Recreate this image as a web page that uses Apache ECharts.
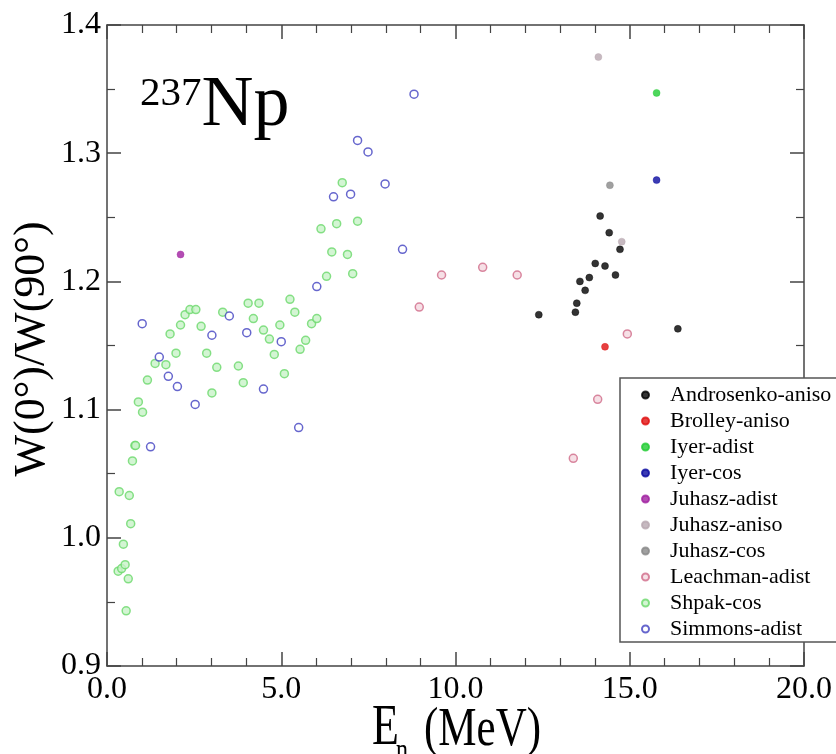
<!DOCTYPE html>
<html>
<head>
<meta charset="utf-8">
<script src="https://cdn.jsdelivr.net/npm/echarts@6/dist/echarts.min.js"></script>
<style>
  html, body { margin: 0; padding: 0; background: #fff; }
  #chart { width: 836px; height: 754px; }
</style>
</head>
<body>
<div id="chart"></div>
<script>
// data: [E_n (MeV), W(0)/W(90)]
const androsenkoAniso = [
  [12.39, 1.174], [13.44, 1.176], [13.48, 1.183], [13.57, 1.200], [13.72, 1.193],
  [13.84, 1.203], [14.01, 1.214], [14.15, 1.251], [14.29, 1.212], [14.41, 1.238],
  [14.59, 1.205], [14.72, 1.225], [16.38, 1.163]
]
const brolleyAniso = [[14.29, 1.149]]
const iyerAdist = [[15.77, 1.347]]
const iyerCos = [[15.77, 1.279]]
const juhaszAdist = [[2.11, 1.221]]
const juhaszAniso = [[14.10, 1.375], [14.77, 1.231]]
const juhaszCos = [[14.43, 1.275]]
const leachmanAdist = [
  [8.96, 1.180], [9.60, 1.205], [10.78, 1.211], [11.77, 1.205],
  [13.38, 1.062], [14.08, 1.108], [14.93, 1.159]
]
const shpakCos = [
  [0.32, 0.974], [0.35, 1.036], [0.42, 0.976], [0.47, 0.995], [0.52, 0.979],
  [0.55, 0.943], [0.61, 0.968], [0.64, 1.033], [0.68, 1.011], [0.73, 1.060],
  [0.80, 1.072], [0.82, 1.072], [0.90, 1.106], [1.02, 1.098], [1.16, 1.123],
  [1.38, 1.136], [1.69, 1.135], [1.81, 1.159], [1.98, 1.144], [2.11, 1.166],
  [2.24, 1.174], [2.38, 1.178], [2.55, 1.178], [2.70, 1.165], [2.86, 1.144],
  [3.01, 1.113], [3.15, 1.133], [3.32, 1.176], [3.77, 1.134], [3.91, 1.121],
  [4.05, 1.183], [4.20, 1.171], [4.36, 1.183], [4.49, 1.162], [4.66, 1.155],
  [4.80, 1.143], [4.96, 1.166], [5.09, 1.128], [5.25, 1.186], [5.39, 1.176],
  [5.54, 1.147], [5.70, 1.154], [5.87, 1.167], [6.02, 1.171], [6.14, 1.241],
  [6.30, 1.204], [6.45, 1.223], [6.59, 1.245], [6.75, 1.277], [6.90, 1.221],
  [7.05, 1.206], [7.19, 1.247]
]
const simmonsAdist = [
  [1.01, 1.167], [1.25, 1.071], [1.50, 1.141], [1.76, 1.126], [2.02, 1.118],
  [2.53, 1.104], [3.01, 1.158], [3.51, 1.173], [4.01, 1.160], [4.49, 1.116],
  [5.00, 1.153], [5.50, 1.086], [6.02, 1.196], [6.50, 1.266], [6.99, 1.268],
  [7.19, 1.310], [7.49, 1.301], [7.98, 1.276], [8.48, 1.225], [8.81, 1.346]
]

const serif = '"Liberation Serif", "DejaVu Serif", serif'
const axisColor = '#444'

const chart = echarts.init(document.getElementById('chart'), null, { renderer: 'canvas' })

const filled = (name, data, color) => ({
  name, type: 'scatter', data, symbol: 'circle', symbolSize: 7,
  itemStyle: { color, borderColor: color, borderWidth: 0.5 }
})
const open = (name, data, color, fill) => ({
  name, type: 'scatter', data, symbol: 'circle', symbolSize: 8,
  itemStyle: { color: fill, borderColor: color, borderWidth: 1.5 }
})

const tickStyle = {
  axisLine: { show: true, onZero: false, lineStyle: { color: axisColor, width: 1.5 } },
  axisTick: { show: true, inside: true, length: 14, lineStyle: { color: axisColor, width: 1.5 } },
  minorTick: { show: true, length: 8, lineStyle: { color: axisColor, width: 1.2 } },
  splitLine: { show: false }
}

// axis titles (x title looks vertically stretched in the original)
const textEl = (text, x, y, size, extra, style) => ({
  type: 'text', x, y, silent: true, ...extra,
  style: { text, font: size + 'px ' + serif, fill: '#000', verticalAlign: 'middle', align: 'left', ...style }
})

const option = {
  animation: false,
  backgroundColor: '#fff',
  title: {
    text: '{a|237}{b|Np}',
    left: 140,
    top: 70,
    padding: 0,
    textStyle: {
      rich: {
        a: { fontFamily: serif, fontSize: 41, fontWeight: 'normal', color: '#000', verticalAlign: 'top', padding: [4, 0, 0, 0] },
        b: { fontFamily: serif, fontSize: 72, fontWeight: 'normal', color: '#000', verticalAlign: 'top' }
      }
    }
  },
  graphic: [
    textEl('E', 372, 729, 44, { scaleY: 1.3 }),
    textEl('n', 396, 752, 24, { scaleY: 1.3 }),
    textEl('(MeV)', 424, 730, 43, { scaleY: 1.3 }),
    textEl('W(0°)/W(90°)', 32, 349, 44, { rotation: Math.PI / 2 }, { align: 'center' })
  ],
  grid: { left: 107, right: 32, top: 25, bottom: 88, outerBoundsMode: 'none' },
  legend: {
    orient: 'vertical',
    left: 620,
    top: 378,
    padding: [6, 10, 2, 21],
    itemGap: 4,
    itemWidth: 7,
    itemHeight: 7,
    backgroundColor: '#fff',
    borderColor: '#555',
    borderWidth: 1.5,
    borderRadius: 0,
    textStyle: { fontFamily: serif, fontSize: 22, color: '#000', padding: [0, 0, 0, 16] }
  },
  xAxis: [
    {
      type: 'value', min: 0, max: 20, interval: 5,
      minorTick: { ...tickStyle.minorTick, splitNumber: 5 },
      axisLine: tickStyle.axisLine, axisTick: tickStyle.axisTick, splitLine: tickStyle.splitLine,
      axisLabel: { fontFamily: serif, fontSize: 32, color: '#000', margin: 8, formatter: v => v.toFixed(1) }
    },
    {
      type: 'value', min: 0, max: 20, interval: 5, position: 'top',
      minorTick: { ...tickStyle.minorTick, splitNumber: 5 },
      axisLine: tickStyle.axisLine, axisTick: tickStyle.axisTick, splitLine: tickStyle.splitLine,
      axisLabel: { show: false }
    }
  ],
  yAxis: [
    {
      type: 'value', min: 0.9, max: 1.4, interval: 0.1,
      minorTick: { ...tickStyle.minorTick, splitNumber: 2 },
      axisLine: tickStyle.axisLine, axisTick: tickStyle.axisTick, splitLine: tickStyle.splitLine,
      axisLabel: { fontFamily: serif, fontSize: 32, color: '#000', margin: 6, formatter: v => v.toFixed(1) }
    },
    {
      type: 'value', min: 0.9, max: 1.4, interval: 0.1, position: 'right',
      minorTick: { ...tickStyle.minorTick, splitNumber: 2 },
      axisLine: tickStyle.axisLine, axisTick: tickStyle.axisTick, splitLine: tickStyle.splitLine,
      axisLabel: { show: false }
    }
  ],
  series: [
    filled('Androsenko-aniso', androsenkoAniso, '#000000'),
    filled('Brolley-aniso', brolleyAniso, '#e01010'),
    filled('Iyer-adist', iyerAdist, '#22cc33'),
    filled('Iyer-cos', iyerCos, '#0a0aa0'),
    filled('Juhasz-adist', juhaszAdist, '#a020a0'),
    filled('Juhasz-aniso', juhaszAniso, '#b8a8b0'),
    filled('Juhasz-cos', juhaszCos, '#888888'),
    open('Leachman-adist', leachmanAdist, '#d06a88', '#f4d8e0'),
    open('Shpak-cos', shpakCos, '#6ad86a', '#c8f2c8'),
    open('Simmons-adist', simmonsAdist, '#4040c0', '#ffffff')
  ]
}

chart.setOption(option)
</script>
</body>
</html>
